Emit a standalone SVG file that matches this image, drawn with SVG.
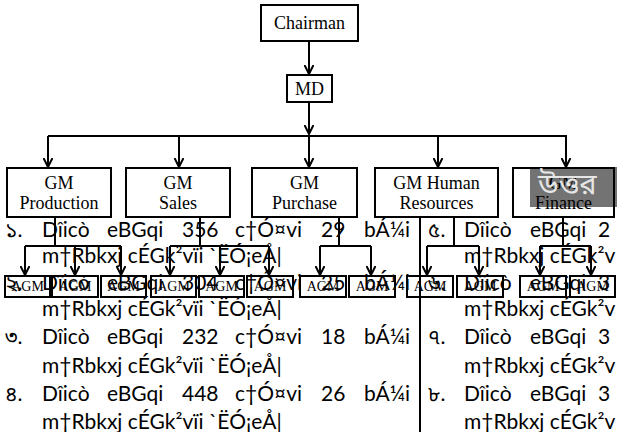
<svg xmlns="http://www.w3.org/2000/svg" width="617" height="432" viewBox="0 0 617 432">
<style>
.box{fill:#fff;stroke:#000;stroke-width:2}
.t{font-family:"Liberation Serif","Times New Roman",serif;font-size:18px;fill:#000;text-anchor:middle}
.a{font-family:"Liberation Serif","Times New Roman",serif;font-size:14px;fill:#000;text-anchor:middle}
.c{fill:none;stroke:#000;stroke-width:2}
.ca{fill:none;stroke:#000;stroke-width:2;marker-end:url(#ah)}
.g{font-family:Lato,"Noto Sans","Noto Sans Bengali",sans-serif;font-size:21px;fill:#000}
</style>
<defs>
<marker id="ah" viewBox="0 0 10 10" refX="9" refY="5" markerWidth="10" markerHeight="10" markerUnits="userSpaceOnUse" orient="auto">
<path d="M0,0.5 L9,5 L0,9.5" fill="none" stroke="#000" stroke-width="2"/>
</marker>
</defs>
<rect width="617" height="432" fill="#fff"/>
<g id="connectors">
<path class="ca" d="M309,41 V74"/>
<path class="ca" d="M309,102 V134"/>
<path class="c" d="M48,136 H567"/>
<path class="ca" d="M48,136 V167"/>
<path class="ca" d="M179,136 V167"/>
<path class="ca" d="M309,136 V167"/>
<path class="ca" d="M438,136 V167"/>
<path class="ca" d="M566,136 V167"/>
<path class="c" d="M55,217 V246 M25,246 H121"/>
<path class="ca" d="M25,246 V275"/>
<path class="ca" d="M75,246 V275"/>
<path class="ca" d="M121,246 V275"/>
<path class="c" d="M200,217 V246 M170,246 H269"/>
<path class="ca" d="M170,246 V275"/>
<path class="ca" d="M220,246 V275"/>
<path class="ca" d="M269,246 V275"/>
<path class="c" d="M339,217 V246 M320,246 H371"/>
<path class="ca" d="M320,246 V275"/>
<path class="ca" d="M371,246 V275"/>
<path class="c" d="M454,217 V246 M427,246 H479"/>
<path class="ca" d="M427,246 V275"/>
<path class="ca" d="M479,246 V275"/>
<path class="c" d="M563,217 V246 M540,246 H591"/>
<path class="ca" d="M540,246 V275"/>
<path class="ca" d="M591,246 V275"/>
</g>
<g id="chairman"><rect class="box" x="261" y="5" width="97" height="36"/><text class="t" x="309.5" y="29">Chairman</text></g>
<g id="md"><rect class="box" x="287" y="75" width="45" height="27"/><text class="t" x="309.5" y="95">MD</text></g>
<g id="gm-production"><rect class="box" x="7" y="168" width="104" height="49"/><text class="t" x="59" y="189">GM</text><text class="t" x="59" y="209">Production</text></g>
<g id="gm-sales"><rect class="box" x="126" y="168" width="104" height="49"/><text class="t" x="178" y="189">GM</text><text class="t" x="178" y="209">Sales</text></g>
<g id="gm-purchase"><rect class="box" x="252" y="168" width="105" height="49"/><text class="t" x="304.5" y="189">GM</text><text class="t" x="304.5" y="209">Purchase</text></g>
<g id="gm-hr"><rect class="box" x="375" y="168" width="123" height="49"/><text class="t" x="436.5" y="189">GM Human</text><text class="t" x="436.5" y="209">Resources</text></g>
<g id="gm-finance"><rect class="box" x="513" y="168" width="101" height="49"/><text class="t" x="563.5" y="189">GM</text><text class="t" x="563.5" y="209">Finance</text></g>
<g id="agm-1"><rect class="box" x="5" y="276" width="45" height="21"/><text class="a" x="27.5" y="291">AGM</text></g>
<g id="agm-2"><rect class="box" x="52" y="276" width="46" height="21"/><text class="a" x="75" y="291">AGM</text></g>
<g id="agm-3"><rect class="box" x="101" y="276" width="45" height="21"/><text class="a" x="123.5" y="291">AGM</text></g>
<g id="agm-4"><rect class="box" x="151" y="276" width="45" height="21"/><text class="a" x="173.5" y="291">AGM</text></g>
<g id="agm-5"><rect class="box" x="199" y="276" width="45" height="21"/><text class="a" x="221.5" y="291">AGM</text></g>
<g id="agm-6"><rect class="box" x="247" y="276" width="46" height="21"/><text class="a" x="270" y="291">AGM</text></g>
<g id="agm-7"><rect class="box" x="300" y="276" width="46" height="21"/><text class="a" x="323" y="291">AGM</text></g>
<g id="agm-8"><rect class="box" x="349" y="276" width="46" height="21"/><text class="a" x="372" y="291">AGM</text></g>
<g id="agm-9"><rect class="box" x="407" y="276" width="46" height="21"/><text class="a" x="430" y="291">AGM</text></g>
<g id="agm-10"><rect class="box" x="457" y="276" width="46" height="21"/><text class="a" x="480" y="291">AGM</text></g>
<g id="agm-11"><rect class="box" x="520" y="276" width="46" height="21"/><text class="a" x="543" y="291">AGM</text></g>
<g id="agm-12"><rect class="box" x="570" y="276" width="45" height="21"/><text class="a" x="592.5" y="291">AGM</text></g>
<g id="overlay">
<rect x="530" y="167" width="87" height="40" fill="#000" fill-opacity="0.55"/>
<text x="538" y="194" font-family="'Noto Sans Bengali','Noto Sans',sans-serif" font-size="29" fill="#e6e6e6">উত্তর</text>
</g>
<g id="text-layer" class="g">
<path d="M420,216 V432" stroke="#000" stroke-width="2" fill="none"/>
<text x="5" y="237">১.</text><text x="42" y="237">Dîicò</text><text x="107" y="237">eBGqi</text><text x="182" y="237">356</text><text x="235" y="237">c†Ó¤vi</text><text x="321" y="237">29</text><text x="364" y="237">bÁ¼i</text>
<text x="42" y="263">m†Rbkxj cÉGk²vïi `ËÓ¡eÅ|</text>
<text x="5" y="290">২.</text><text x="42" y="290">Dîicò</text><text x="107" y="290">eBGqi</text><text x="182" y="290">304</text><text x="235" y="290">c†Ó¤vi</text><text x="321" y="290">25</text><text x="364" y="290">bÁ¼i</text>
<text x="42" y="316">m†Rbkxj cÉGk²vïi `ËÓ¡eÅ|</text>
<text x="5" y="344">৩.</text><text x="42" y="344">Dîicò</text><text x="107" y="344">eBGqi</text><text x="182" y="344">232</text><text x="235" y="344">c†Ó¤vi</text><text x="321" y="344">18</text><text x="364" y="344">bÁ¼i</text>
<text x="42" y="373">m†Rbkxj cÉGk²vïi `ËÓ¡eÅ|</text>
<text x="5" y="401">৪.</text><text x="42" y="401">Dîicò</text><text x="107" y="401">eBGqi</text><text x="182" y="401">448</text><text x="235" y="401">c†Ó¤vi</text><text x="321" y="401">26</text><text x="364" y="401">bÁ¼i</text>
<text x="42" y="429">m†Rbkxj cÉGk²vïi `ËÓ¡eÅ|</text>
<text x="428" y="237">৫.</text><text x="464" y="237">Dîicò</text><text x="530" y="237">eBGqi</text><text x="598" y="237">2</text>
<text x="464" y="263">m†Rbkxj cÉGk²v</text>
<text x="428" y="290">৬.</text><text x="464" y="290">Dîicò</text><text x="530" y="290">eBGqi</text><text x="598" y="290">3</text>
<text x="464" y="316">m†Rbkxj cÉGk²v</text>
<text x="428" y="344">৭.</text><text x="464" y="344">Dîicò</text><text x="530" y="344">eBGqi</text><text x="598" y="344">3</text>
<text x="464" y="373">m†Rbkxj cÉGk²v</text>
<text x="428" y="401">৮.</text><text x="464" y="401">Dîicò</text><text x="530" y="401">eBGqi</text><text x="598" y="401">3</text>
<text x="464" y="429">m†Rbkxj cÉGk²v</text>
</g>
</svg>
